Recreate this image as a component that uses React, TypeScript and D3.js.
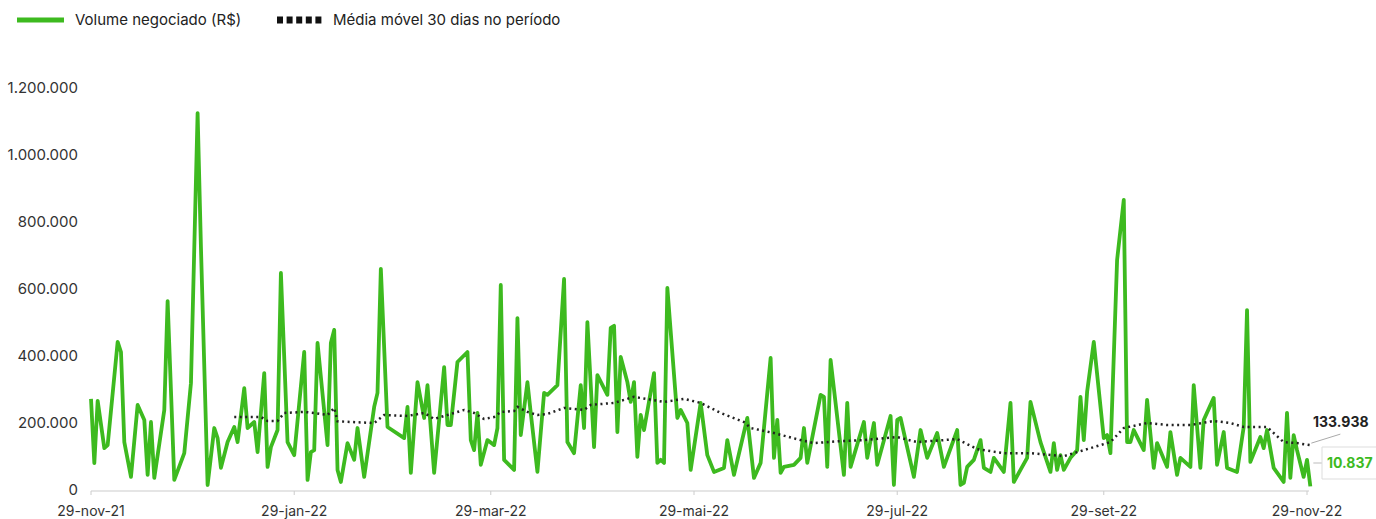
import React from "react";
import * as d3 from "d3";

// Volume negociado (R$) — day offset from 29-nov-21 and value
const volumeDays = [0,1,2,4,5,8,9,10,12,14,16,17,18,19,22,23,25,28,30,32,33,35,37,38,39,41,43,44,46,47,49,50,52,53,54,56,57,59,61,64,65,66,67,68,71,72,73,74,75,77,79,80,82,85,86,87,89,94,95,96,98,100,101,103,106,107,108,110,113,114,115,116,117,119,121,122,123,124,127,128,129,131,132,134,136,137,140,142,143,145,147,148,149,151,152,155,156,157,158,159,161,162,163,164,165,166,169,170,171,172,173,176,177,179,180,183,185,187,190,191,193,197,199,201,204,205,206,207,208,211,213,214,215,219,220,221,222,226,227,228,232,233,235,236,240,241,242,243,247,249,251,254,256,260,261,262,263,265,267,268,270,271,274,276,277,279,281,282,285,288,289,290,291,292,294,296,297,298,299,301,304,305,306,308,310,311,312,313,316,317,319,320,323,324,326,327,330,331,333,334,337,338,340,341,344,346,347,348,351,352,353,355,358,359,360,361,362,364,365,366];
const volumeValues = [272000,80000,266000,125000,134000,442000,412000,143000,39000,254000,209000,45000,203000,36000,239000,564000,30000,110000,319000,1125000,725000,15000,185000,155000,66000,143000,188000,143000,304000,185000,203000,113000,349000,69000,128000,179000,648000,143000,104000,412000,30000,113000,119000,439000,134000,439000,478000,60000,24000,140000,90000,185000,39000,248000,290000,660000,188000,155000,248000,51000,322000,215000,313000,51000,367000,194000,194000,382000,412000,149000,119000,230000,75000,149000,134000,185000,612000,90000,60000,513000,164000,322000,230000,54000,290000,284000,313000,630000,143000,110000,313000,185000,501000,128000,343000,284000,484000,490000,173000,397000,322000,263000,322000,99000,224000,179000,349000,81000,90000,81000,603000,215000,239000,200000,60000,260000,104000,54000,66000,149000,45000,215000,36000,81000,394000,96000,209000,51000,69000,75000,96000,185000,81000,284000,278000,69000,388000,45000,260000,69000,203000,96000,200000,75000,221000,15000,209000,215000,39000,179000,96000,170000,69000,179000,15000,21000,69000,90000,149000,66000,54000,96000,54000,260000,24000,60000,96000,263000,143000,54000,140000,60000,104000,60000,96000,119000,278000,149000,293000,442000,155000,164000,110000,687000,866000,143000,143000,179000,119000,269000,66000,140000,69000,173000,45000,96000,69000,313000,66000,209000,275000,75000,173000,66000,54000,188000,537000,84000,158000,125000,179000,66000,24000,230000,36000,164000,119000,39000,90000,10837];

// Média móvel 30 dias no período
const avgDays = [43,51,53,56,58,64,67,71,73,74,85,88,95,100,103,112,115,118,121,123,127,128,131,134,137,142,148,150,157,163,172,178,183,189,196,198,205,213,217,225,232,242,248,260,266,274,282,292,300,306,310,317,323,330,337,342,346,353,358,362,366];
const avgValues = [218000,218000,206000,206000,230000,233000,230000,224000,245000,205000,200000,224000,221000,230000,212000,239000,230000,212000,218000,233000,236000,248000,233000,224000,227000,245000,239000,254000,260000,278000,263000,272000,260000,230000,203000,185000,170000,149000,140000,146000,149000,158000,143000,152000,122000,110000,110000,101000,125000,143000,185000,200000,194000,194000,206000,200000,188000,188000,143000,140000,133938];

const yTicks = [0, 200000, 400000, 600000, 800000, 1000000, 1200000];
const xTickLabels = ["29-nov-21", "29-jan-22", "29-mar-22", "29-mai-22", "29-jul-22", "29-set-22", "29-nov-22"];
const xTickDates = ["2021-11-29", "2022-01-29", "2022-03-29", "2022-05-29", "2022-07-29", "2022-09-29", "2022-11-29"];
const legendLabels = ["Volume negociado (R$)", "Média móvel 30 dias no período"];
const startDate = "2021-11-29";
const endDate = "2022-11-29";

const GREEN = "#3dba1f";
const FONT = "Inter, 'Noto Sans', sans-serif";

const parse = d3.timeParse("%Y-%m-%d");
const fmt = (v: number) => d3.format(",")(v).replace(/,/g, ".");

export default function App() {
  const W = 1376, H = 519;
  const start = parse(startDate)!;
  const x = d3.scaleTime().domain([start, parse(endDate)!]).range([91, 1307]);
  const y = d3.scaleLinear().domain([0, 1200000]).range([490, 88]);
  const dayDate = (d: number) => d3.timeDay.offset(start, d);

  const vol = volumeDays.map((d, i) => ({ date: dayDate(d), v: volumeValues[i] }));
  const avg = avgDays.map((d, i) => ({ date: dayDate(d), v: avgValues[i] }));
  const line = d3.line<{ date: Date; v: number }>().x(p => x(p.date)).y(p => y(p.v));

  const lastVol = vol[vol.length - 1];
  const lastAvg = avg[avg.length - 1];
  const lvx = x(lastVol.date);
  const lax = x(lastAvg.date), lay = y(lastAvg.v);

  return (
    <svg width={W} height={H} style={{ position: "absolute", left: 0, top: 0, background: "#fff" }} fontFamily={FONT}>
      {/* legend */}
      <line x1={17} x2={64} y1={20} y2={20} stroke={GREEN} strokeWidth={5} />
      <text x={75} y={25} fontSize={15} fill="#222">{legendLabels[0]}</text>
      {[0, 1, 2, 3, 4].map(i => (
        <rect key={i} x={277 + i * 9.6} y={16.5} width={6} height={7} fill="#111" />
      ))}
      <text x={333} y={25} fontSize={15} fill="#222">{legendLabels[1]}</text>

      {/* y axis labels */}
      {yTicks.map(t => (
        <text key={t} x={78} y={y(t)} dy="0.35em" textAnchor="end" fontSize={15} fill="#333">{fmt(t)}</text>
      ))}

      {/* x axis */}
      <line x1={x(start)} x2={x(parse(endDate)!) + 2} y1={491} y2={491} stroke="#ddd" strokeWidth={1.5} />
      {xTickDates.map((d, i) => (
        <g key={d}>
          <line x1={x(parse(d)!)} x2={x(parse(d)!)} y1={491} y2={495} stroke="#ccc" />
          <text x={x(parse(d)!)} y={511} dy="0.35em" textAnchor="middle" fontSize={14} fill="#333">{xTickLabels[i]}</text>
        </g>
      ))}

      {/* series */}
      <path d={line(vol) || ""} fill="none" stroke={GREEN} strokeWidth={3.8} strokeLinejoin="round" />
      <path d={line(avg) || ""} fill="none" stroke="#222" strokeWidth={2.5} strokeDasharray="2 3.5" />

      {/* end labels */}
      <line x1={lax + 1} y1={lay - 2} x2={lax + 30} y2={lay - 11} stroke="#aaa" strokeWidth={1} />
      <text x={1313} y={422} dy="0.35em" fontSize={14} fontWeight={700} fill="#222">{fmt(lastAvg.v)}</text>
      <line x1={lvx + 3} y1={463} x2={1322} y2={463} stroke="#bbb" strokeWidth={1} />
      <path d="M1376,447 H1322 V479 H1376" fill="none" stroke="#ddd" strokeWidth={1} />
      <text x={1327} y={463} dy="0.35em" fontSize={14} fontWeight={700} fill={GREEN}>{fmt(lastVol.v)}</text>
    </svg>
  );
}
